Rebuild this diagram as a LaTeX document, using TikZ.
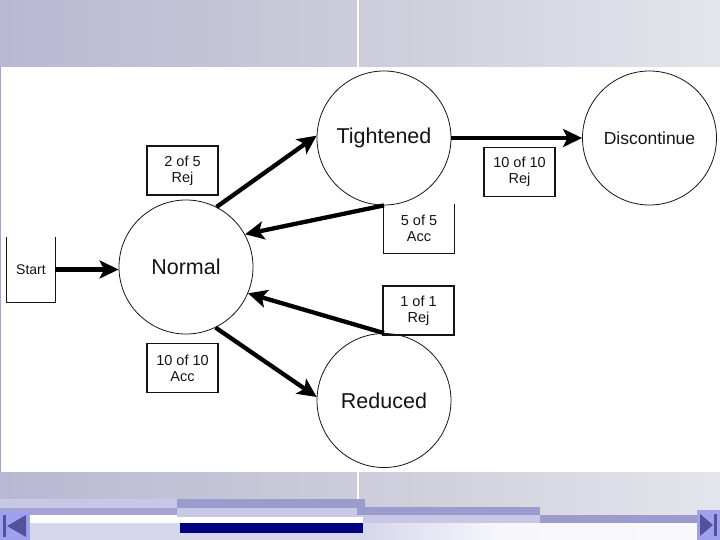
\documentclass[tikz,border=0pt]{standalone}
\usepackage{fontspec}
\setmainfont{Liberation Sans}
\usetikzlibrary{arrows.meta}
\definecolor{bandL}{RGB}{164,164,206}
\definecolor{bandM}{RGB}{204,204,218}
\definecolor{bandR}{RGB}{253,253,254}
\definecolor{barlight}{RGB}{200,200,230}
\definecolor{barmed}{RGB}{155,155,205}
\definecolor{barnavy}{RGB}{0,0,128}
\definecolor{lowlight}{RGB}{214,214,236}
\definecolor{iconfill}{RGB}{160,160,240}
\definecolor{icondark}{RGB}{82,82,155}
\definecolor{inkc}{RGB}{20,20,20}
\pgfdeclarehorizontalshading{topband}{100bp}{color(0bp)=(bandL); color(50bp)=(bandM); color(100bp)=(bandR)}
\pgfdeclarehorizontalshading{lowband}{100bp}{color(0bp)=(lowlight); color(50bp)=(lowlight); color(60bp)=(bandR!85!lowlight); color(100bp)=(bandR)}
\tikzset{
  state/.style={circle, draw=inkc, line width=0.8pt, minimum size=134pt, inner sep=0pt, text=inkc, font=\fontsize{21.5}{25}\selectfont},
  lbl/.style={draw=inkc, line width=1.2pt, minimum width=71pt, minimum height=49pt, inner sep=0pt, align=center, text=inkc, font=\fontsize{14.5}{16}\selectfont},
  lblopen/.style={minimum width=71pt, minimum height=49pt, inner sep=0pt, align=center, text=inkc, font=\fontsize{14.5}{16}\selectfont},
  trans/.style={draw=black, line width=4.3pt, -{Stealth[length=19pt,width=18pt,inset=4.5pt]}},
  boxline/.style={draw=inkc, line width=1.2pt}
}
\begin{document}
\begin{tikzpicture}[x=1pt,y=-1pt]
\useasboundingbox (0,0) rectangle (720,540);
% background bands
\fill[white] (0,0) rectangle (720,540);
\shade[shading=topband] (0,0) rectangle (720,67);
\draw[white, line width=1.2pt] (358,0) -- (358,67);
\draw[bandL, line width=1.2pt] (0.6,67) -- (0.6,472);
\shade[shading=topband] (0,472) rectangle (720,540);
\shade[shading=lowband] (0,523) rectangle (720,540);
\draw[white, line width=1.2pt] (358,472) -- (358,508);
% bars
\fill[barlight] (0,499) rectangle (177,508);
\fill[barmed!80!barlight] (0,508) rectangle (177,515);
\fill[white] (30,515) rectangle (177,523);
\fill[barmed] (177,499) rectangle (365,508);
\fill[barlight] (177,508) rectangle (357,517);
\fill[white] (177,517) rectangle (363,523);
\fill[barnavy] (180,523) rectangle (363,533);
\fill[barmed] (357,507) rectangle (540,515);
\fill[barlight] (363,515) rectangle (540,523);
\fill[barmed] (540,515) rectangle (697,523);
% navigation icons
\fill[iconfill] (0,511) rectangle (30,540);
\fill[icondark] (3,515) rectangle (6,537);
\fill[icondark] (7,526) -- (26,515) -- (26,537) -- cycle;
\fill[iconfill] (697,510) rectangle (720,540);
\fill[icondark] (714,514) rectangle (717,536);
\fill[icondark] (713,525) -- (700,514) -- (700,536) -- cycle;
% start box
\node[minimum width=48pt, minimum height=65pt, inner sep=0pt, text=inkc, font=\fontsize{14}{16}\selectfont] (S) at (31,269.5) {Start};
\draw[boxline] (S.north west) -- (S.south west) -- (S.south east) -- (S.north east);
% states
\node[state] (N) at (186,267) {Normal};
\node[state] (T) at (384,138) {Tightened};
\node[state, font=\fontsize{17.5}{20}\selectfont] (D) at (649.5,138) {Discontinue};
\node[state] (R) at (384,400.5) {Reduced};
% labels
\node[lbl] (L1) at (182.5,170.5) {2 of 5\\Rej};
\node[lbl] (L2) at (182.5,368) {10 of 10\\Acc};
\node[lbl] (L3) at (519.5,172) {10 of 10\\Rej};
\node[lblopen] (L4) at (419,228.5) {5 of 5\\Acc};
\draw[boxline] (L4.north west) -- (L4.south west) -- (L4.south east) -- (L4.north east);
\node[lbl] (L5) at (418.5,310.5) {1 of 1\\Rej};
% transitions
\draw[trans] (S.east) -- (S.east -| N.west);
\draw[trans] (N.63) -- (T.178);
\draw[trans] (T.270) -- (N.29);
\draw[trans] (R.90) -- (N.-23);
\draw[trans] (N.-64) -- (R.177);
\draw[trans] (T.east) -- (D.west);
\end{tikzpicture}
\end{document}
